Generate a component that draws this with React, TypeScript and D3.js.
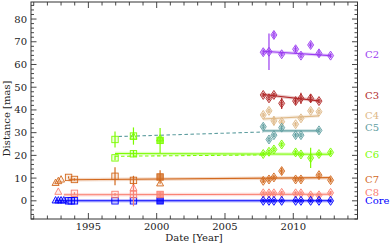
import * as d3 from 'd3'

// components, top to bottom in the right-hand legend
const components = ['C2', 'C3', 'C4', 'C5', 'C6', 'C7', 'C8', 'Core']
const colors = ['#9a3cf0', '#b02828', '#deb887', '#5f9ea0', '#7cfc00', '#d2691e', '#fa8072', '#0000ff']
const labelValues = [64.5, 46.3, 37.6, 32.4, 20.6, 9.6, 3.8, 0]

// recent epochs (diamonds)
const diamondEpochs = [2007.8, 2008.22, 2008.58, 2009.15, 2010.17, 2010.56, 2011.27, 2011.88, 2012.73]
const diamondValues = [
  [65.4, 65.6, 73.0, 64.5, 66.7, 63.9, 68.6, 64.9, 63.9],
  [46.6, 45.1, 46.6, 42.9, 43.9, 45.1, 45.1, 43.9, null],
  [37.8, 39.6, 35.2, 34.8, 33.7, 36.3, 39.6, 39.2, null],
  [32.6, 27.0, 28.9, 32.2, 28.9, 28.9, null, 31.0, null],
  [20.6, 21.6, 22.6, 24.8, 21.3, 20.4, 18.9, 20.6, 21.3],
  [8.8, 9.4, 10.3, 13.1, 9.4, 9.4, null, 11.3, 9.1],
  [3.3, 3.3, 3.3, 3.5, 3.3, 3.3, 2.4, 2.4, 3.5],
  [0, 0, 0, 0, 0, 0, 0, 0, 0],
]
const diamondErrors = [
  [1.2, 8, 1.5, 1, 1.3, 1, 1.2, 1.5, 1],
  [1, 1, 1, 2.5, 1.5, 2.5, 1.8, 1, 0],
  [1, 1, 2, 1, 1, 1, 1, 1, 0],
  [1.2, 1, 1, 1, 1, 1, 0, 1, 0],
  [1, 1, 1, 1, 1, 1, 4.5, 1, 1],
  [1, 1, 1, 1.5, 1, 1, 0, 1, 1],
  [0.8, 0.8, 0.8, 0.8, 0.8, 0.8, 0.8, 0.8, 0.8],
  [0.5, 0.5, 0.5, 0.5, 0.5, 0.5, 0.5, 0.5, 0.5],
]

// early epochs (squares)
const squareEpochs = [1993.55, 1993.75, 1993.98, 1996.95, 1998.3, 2000.25]
const squareCore = [0, 0, 0, 0, 0, 0]
const squareC8 = [null, null, 3.3, 2.8, 2.8, 2.8]
const squareC8Err = [0, 0, 0.5, 0.6, 5.2, 1]
const squareC7 = [10.3, null, 9.4, 10.8, 9.0, 10.5]
const squareC7Err = [0.5, 0, 0.5, 4, 2, 3]
const squareC6 = [null, null, null, 18.9, 20.7, null]
const squareC6Err = [0, 0, 0, 1, 1.5, 0]
const squareC6Upper = [null, null, null, 27.0, 28.5, 26.6]
const squareC6UpperErr = [0, 0, 0, 3.5, 3.8, 5.5]

// early epochs (triangles)
const triangleEpochs = [1992.6, 1992.8, 1993.0, 1993.2, 1998.3, 2000.25]
const triangleCore = [0.2, 0.2, 0.2, 0.2, null, null]
const triangleC8 = [null, 4.0, null, null, 5.7, null]
const triangleC7 = [7.9, 8.7, 9.4, null, null, 7.7]
const triangleC6Upper = [null, null, null, null, 28.3, 27.5]

// linear fits: component, start year, end year, start value, end value, dashed
const fitComp = [0, 1, 2, 3, 3, 4, 4, 5, 6, 7]
const fitFrom = [2007.8, 2007.8, 2007.8, 1997.2, 2007.8, 1996.95, 1996.95, 1993.55, 1993.2, 1992.55]
const fitTo = [2012.73, 2011.88, 2011.88, 2007.8, 2011.88, 2012.73, 2007.8, 2012.73, 2012.73, 2012.73]
const fitStart = [65.8, 46.8, 36.0, 28.3, 30.8, 20.8, 19.6, 9.3, 2.7, 0]
const fitEnd = [63.9, 44.0, 37.4, 30.3, 30.8, 20.5, 20.2, 10.2, 2.9, 0]
const fitDashed = [false, false, false, true, false, false, true, false, false, false]

const xTicks = d3.range(1991, 2015)
const yMajor = d3.range(0, 90, 10)
const yMinor = d3.range(-8, 88, 2)

const W = 390
const H = 245
const font = '"DejaVu Serif", serif'

export default function App() {
  const x = d3.scaleLinear().domain([1990.8, 2014.7]).range([31, 357.5])
  const y = d3.scaleLinear().domain([-8, 87.5]).range([219, 2])
  const [x0, x1] = x.range()
  const [y0, y1] = y.range()

  const errBar = (cx: number, v: number, e: number, c: string, key: string) =>
    e > 0 ? <line key={key} x1={cx} x2={cx} y1={y(v - e)} y2={y(v + e)} stroke={c} strokeWidth={1.2} /> : null

  const diamond = (cx: number, cy: number, c: string, key: string) => (
    <g key={key}>
      <path d={`M${cx},${cy - 4.5}L${cx + 3},${cy}L${cx},${cy + 4.5}L${cx - 3},${cy}Z`} fill={c} fillOpacity={0.18} stroke={c} strokeWidth={0.9} />
      <circle cx={cx} cy={cy} r={1.4} fill="none" stroke={c} strokeWidth={0.8} />
    </g>
  )
  const square = (cx: number, cy: number, c: string, filled: boolean, key: string) => (
    <rect key={key} x={cx - 3.2} y={cy - 3.2} width={6.4} height={6.4} fill={c} fillOpacity={filled ? 0.75 : 0.12} stroke={c} strokeWidth={0.9} />
  )
  const triangle = (cx: number, cy: number, c: string, key: string) => (
    <path key={key} d={`M${cx},${cy - 3.8}L${cx + 3.5},${cy + 2.6}L${cx - 3.5},${cy + 2.6}Z`} fill={c} fillOpacity={0.12} stroke={c} strokeWidth={0.9} />
  )

  const line = d3.line<[number, number]>().x((d) => x(d[0])).y((d) => y(d[1]))

  const squareSeries: [(number | null)[], number[] | null, string][] = [
    [squareCore, null, colors[7]],
    [squareC8, squareC8Err, colors[6]],
    [squareC7, squareC7Err, colors[5]],
    [squareC6, squareC6Err, colors[4]],
    [squareC6Upper, squareC6UpperErr, colors[4]],
  ]
  const triangleSeries: [(number | null)[], string][] = [
    [triangleCore, colors[7]],
    [triangleC8, colors[6]],
    [triangleC7, colors[5]],
    [triangleC6Upper, colors[4]],
  ]

  return (
    <svg width={W} height={H} style={{ position: 'absolute', left: 0, top: 0, background: '#fff' }} fontFamily={font}>
      {/* fits */}
      {fitComp.map((ci, i) => {
        const d = line([[fitFrom[i], fitStart[i]], [fitTo[i], fitEnd[i]]]) || ''
        return (
          <g key={'fit' + i}>
            {!fitDashed[i] && <path d={d} stroke={colors[ci]} strokeOpacity={0.25} strokeWidth={3.5} fill="none" />}
            <path d={d} stroke={colors[ci]} strokeWidth={1.1} fill="none" strokeDasharray={fitDashed[i] ? '3.5,2.5' : undefined} />
          </g>
        )
      })}

      {/* triangles */}
      {triangleSeries.map(([vals, c], si) =>
        vals.map((v, i) => (v == null ? null : triangle(x(triangleEpochs[i]), y(v), c, `t${si}-${i}`)))
      )}

      {/* squares */}
      {squareSeries.map(([vals, errs, c], si) =>
        vals.map((v, i) =>
          v == null ? null : (
            <g key={`s${si}-${i}`}>
              {errs && errBar(x(squareEpochs[i]), v, errs[i], c, 'e')}
              {square(x(squareEpochs[i]), y(v), c, i === 5, 'm')}
            </g>
          )
        )
      )}

      {/* diamonds */}
      {diamondValues.map((row, ci) =>
        row.map((v, i) =>
          v == null ? null : (
            <g key={`d${ci}-${i}`}>
              {errBar(x(diamondEpochs[i]), v, diamondErrors[ci][i], colors[ci], 'e')}
              {diamond(x(diamondEpochs[i]), y(v), colors[ci], 'm')}
            </g>
          )
        )
      )}

      {/* frame and ticks */}
      <rect x={x0} y={y1} width={x1 - x0} height={y0 - y1} fill="none" stroke="#333" strokeWidth={1} />
      {xTicks.map((t) => {
        const len = t % 5 === 0 ? 6 : 3.5
        return (
          <g key={'xt' + t} stroke="#333" strokeWidth={0.9}>
            <line x1={x(t)} x2={x(t)} y1={y0} y2={y0 - len} />
            <line x1={x(t)} x2={x(t)} y1={y1} y2={y1 + len} />
          </g>
        )
      })}
      {yMinor.map((t) => {
        const len = t % 10 === 0 ? 5.5 : 3
        return (
          <g key={'yt' + t} stroke="#333" strokeWidth={0.9}>
            <line x1={x0} x2={x0 + len} y1={y(t)} y2={y(t)} />
            <line x1={x1} x2={x1 - len} y1={y(t)} y2={y(t)} />
          </g>
        )
      })}
      {xTicks.filter((t) => t % 5 === 0).map((t) => (
        <text key={'xl' + t} x={x(t)} y={230} textAnchor="middle" fontSize={10} fill="#222">{t}</text>
      ))}
      {yMajor.map((t) => (
        <text key={'yl' + t} x={27} y={y(t)} dy="0.35em" textAnchor="end" fontSize={10} fill="#222">{t}</text>
      ))}
      <text x={194} y={241} textAnchor="middle" fontSize={10} fill="#222">Date [Year]</text>
      <text transform={`translate(10,${(y0 + y1) / 2 + 8}) rotate(-90)`} textAnchor="middle" fontSize={10} fill="#222">Distance [mas]</text>

      {/* component labels */}
      {components.map((c, i) => (
        <text key={'lab' + c} x={365} y={y(labelValues[i])} dy="0.35em" fontSize={10} fill={colors[i]}>{c}</text>
      ))}
    </svg>
  )
}
